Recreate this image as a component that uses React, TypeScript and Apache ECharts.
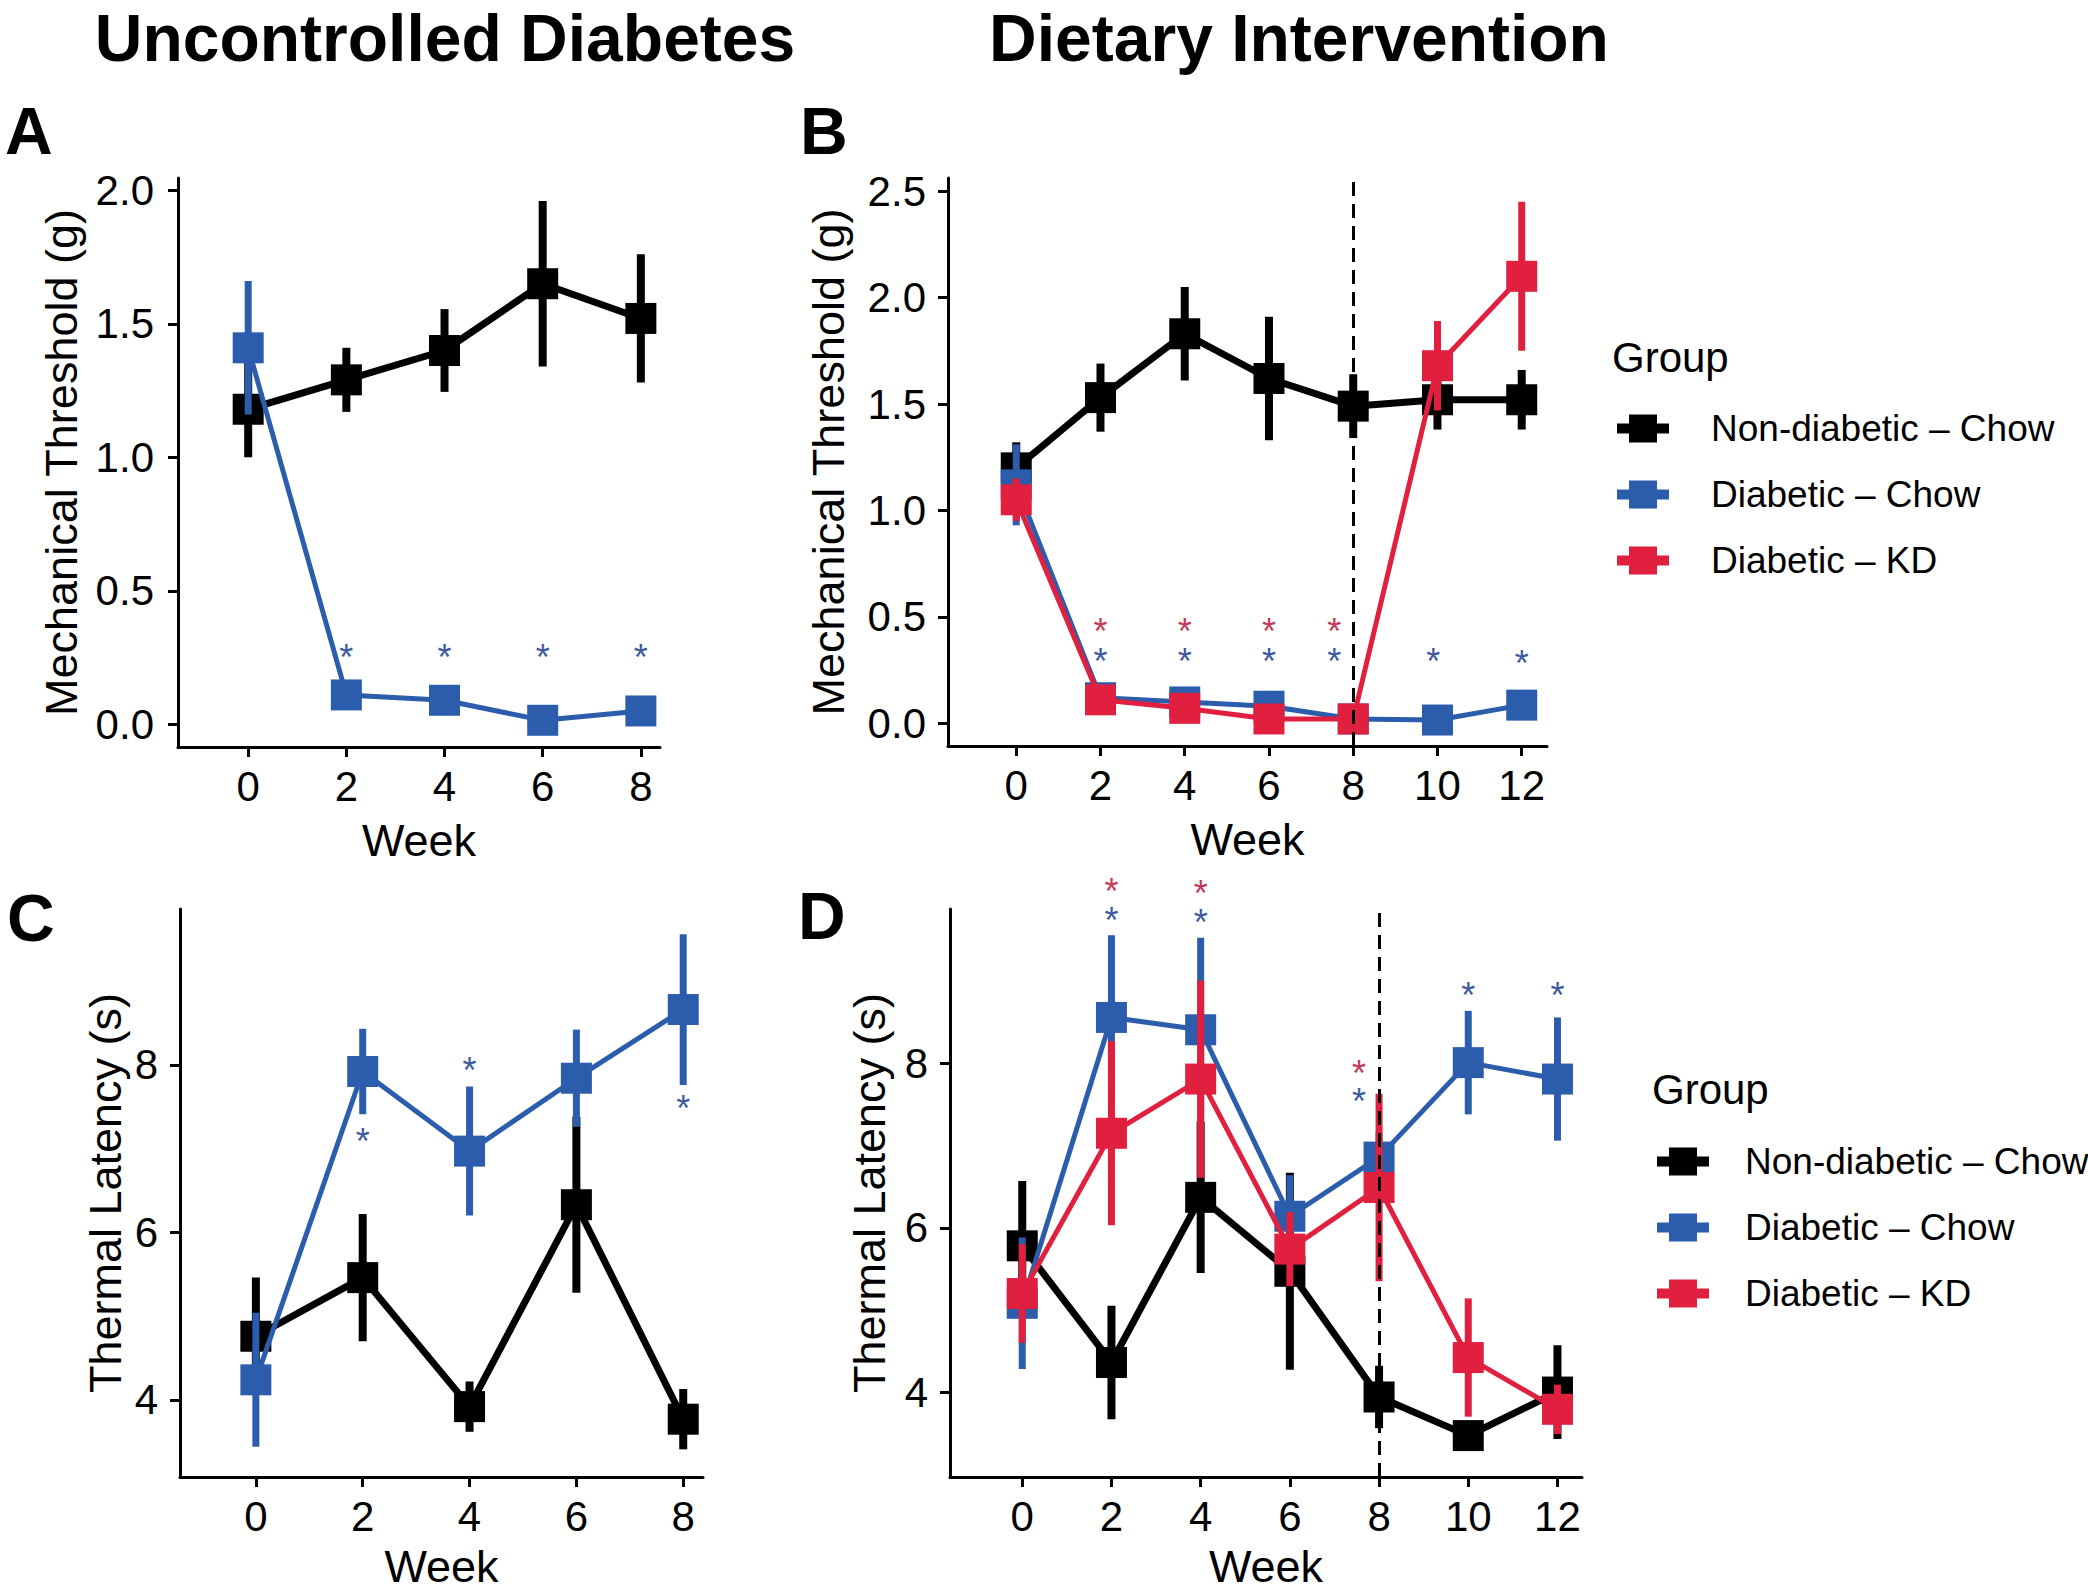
import React, { useEffect, useRef } from "react";
import * as echarts from "echarts";

const FONT = "'Liberation Sans', Arial, Helvetica, sans-serif";

// ---------- data ----------
const GROUPS = ["Non-diabetic – Chow", "Diabetic – Chow", "Diabetic – KD"];
const weeksUD = [0, 2, 4, 6, 8];
const weeksDI = [0, 2, 4, 6, 8, 10, 12];
const xTicksUD = [0, 2, 4, 6, 8];
const xTicksDI = [0, 2, 4, 6, 8, 10, 12];
const yTicksMech = [0, 0.5, 1, 1.5, 2];
const yTicksMechB = [0, 0.5, 1, 1.5, 2, 2.5];
const yTicksThermal = [4, 6, 8];

// Panel A – mechanical threshold, uncontrolled diabetes
const aNonMean = [1.18, 1.29, 1.4, 1.65, 1.52];
const aNonSE = [0.18, 0.12, 0.155, 0.31, 0.24];
const aDiaMean = [1.41, 0.11, 0.09, 0.015, 0.05];
const aDiaSE = [0.25, 0.03, 0.02, 0.02, 0.02];
const aStarsBlue = [[2, 0.28], [4, 0.28], [6, 0.28], [8, 0.28]];

// Panel B – mechanical threshold, dietary intervention
const bNonMean = [1.2, 1.53, 1.83, 1.62, 1.49, 1.52, 1.52];
const bNonSE = [0.12, 0.16, 0.22, 0.29, 0.15, 0.14, 0.14];
const bDiaMean = [1.12, 0.12, 0.1, 0.08, 0.02, 0.015, 0.085];
const bDiaSE = [0.19, 0.03, 0.03, 0.03, 0.02, 0.02, 0.06];
const bKdMean = [1.05, 0.11, 0.07, 0.02, 0.02, 1.68, 2.1];
const bKdSE = [0.1, 0.03, 0.03, 0.02, 0.02, 0.21, 0.35];
const bStarsRed = [[2, 0.47], [4, 0.47], [6, 0.47], [7.55, 0.47]];
const bStarsBlue = [[2, 0.33], [4, 0.33], [6, 0.33], [7.55, 0.33], [9.9, 0.33], [12, 0.32]];

// Panel C – thermal latency, uncontrolled diabetes
const cNonMean = [4.76, 5.46, 3.92, 6.33, 3.77];
const cNonSE = [0.7, 0.76, 0.3, 1.05, 0.36];
const cDiaMean = [4.24, 7.92, 6.97, 7.84, 8.66];
const cDiaSE = [0.8, 0.51, 0.77, 0.58, 0.9];
const cStarsBlue = [[2, 7.18], [4, 8.03], [8, 7.58]];

// Panel D – thermal latency, dietary intervention
const dNonMean = [5.78, 4.36, 6.37, 5.47, 3.94, 3.47, 4.0];
const dNonSE = [0.79, 0.69, 0.92, 1.2, 0.38, 0.17, 0.57];
const dDiaMean = [5.08, 8.56, 8.41, 6.14, 6.86, 8.01, 7.81];
const dDiaSE = [0.8, 1.0, 1.12, 0.5, 0.3, 0.63, 0.75];
const dKdMean = [5.2, 7.15, 7.81, 5.74, 6.49, 4.42, 3.79];
const dKdSE = [0.6, 1.12, 1.2, 0.45, 1.14, 0.72, 0.3];
const dStarsRed = [[2, 10.19], [4, 10.17], [7.55, 7.98]];
const dStarsBlue = [[2, 9.84], [4, 9.81], [7.55, 7.63], [10, 8.92], [12, 8.92]];

const interventionWeek = 8;

// ---------- styles ----------
const BLACK = "#000000";
const BLUE = "#2C5DAD";
const RED = "#E0203E";
const STAR_BLUE = "#3D5A9E";
const STAR_RED = "#C43A58";
const KEY_ICON = "path://M0,9H12V0H40V9H52V19H40V28H12V19H0Z";

function errSeries(gi: number, weeks: number[], mean: number[], se: number[], color: string, width: number, z: number) {
  return {
    type: "custom",
    name: "se" + gi + color,
    xAxisIndex: gi,
    yAxisIndex: gi,
    z,
    silent: true,
    data: weeks.map((w, i) => [w, mean[i] - se[i], mean[i] + se[i]]),
    encode: { x: 0, y: [1, 2] },
    renderItem: (_p: any, api: any) => {
      const a = api.coord([api.value(0), api.value(1)]);
      const b = api.coord([api.value(0), api.value(2)]);
      return {
        type: "line",
        shape: { x1: a[0], y1: a[1], x2: b[0], y2: b[1] },
        style: { stroke: color, lineWidth: width },
      };
    },
  };
}

function lineSeries(name: string, gi: number, weeks: number[], mean: number[], color: string, lw: number, z: number, extra: any = {}) {
  return {
    type: "line",
    name,
    xAxisIndex: gi,
    yAxisIndex: gi,
    z,
    data: weeks.map((w, i) => [w, mean[i]]),
    symbol: "rect",
    symbolSize: 31,
    showSymbol: true,
    lineStyle: { color, width: lw },
    itemStyle: { color },
    emphasis: { disabled: true },
    silent: true,
    ...extra,
  };
}

function starSeries(gi: number, pts: number[][], color: string) {
  return {
    type: "custom",
    name: "stars" + gi + color,
    xAxisIndex: gi,
    yAxisIndex: gi,
    z: 40,
    silent: true,
    clip: false,
    data: pts,
    encode: { x: 0, y: 1 },
    renderItem: (_p: any, api: any) => {
      const c = api.coord([api.value(0), api.value(1)]);
      return {
        type: "text",
        x: c[0],
        y: c[1] + 8,
        style: {
          text: "*",
          fill: color,
          fontSize: 36,
          lineHeight: 16,
          fontFamily: FONT,
          align: "center",
          verticalAlign: "middle",
        },
      };
    },
  };
}

const dashMark = {
  markLine: {
    silent: true,
    z: 50,
    symbol: ["none", "none"],
    label: { show: false },
    lineStyle: { color: BLACK, width: 3, type: [14, 8] },
    data: [{ xAxis: interventionWeek }],
  },
};

function xAxisCfg(gi: number, min: number, max: number, ticks: number[], gap: number) {
  return {
    type: "value",
    gridIndex: gi,
    min,
    max,
    name: "Week",
    nameLocation: "middle",
    nameGap: gap,
    nameTextStyle: { fontSize: 45, color: BLACK, fontFamily: FONT },
    splitLine: { show: false },
    axisLine: { onZero: false, lineStyle: { color: BLACK, width: 3 } },
    axisTick: { show: true, length: 10, lineStyle: { color: BLACK, width: 3 }, customValues: ticks },
    axisLabel: { customValues: ticks, fontSize: 42, color: BLACK, fontFamily: FONT, margin: 18 },
  };
}

function yAxisCfg(gi: number, min: number, max: number, ticks: number[], name: string, gap: number, dec: number, margin: number) {
  return {
    type: "value",
    gridIndex: gi,
    min,
    max,
    name,
    nameLocation: "middle",
    nameGap: gap,
    nameTextStyle: { fontSize: 45, color: BLACK, fontFamily: FONT },
    splitLine: { show: false },
    axisLine: { onZero: false, lineStyle: { color: BLACK, width: 3 } },
    axisTick: { show: true, length: 10, lineStyle: { color: BLACK, width: 3 }, customValues: ticks },
    axisLabel: {
      customValues: ticks,
      fontSize: 42,
      color: BLACK,
      fontFamily: FONT,
      margin,
      formatter: (v: number) => v.toFixed(dec),
    },
  };
}

function legendCfg(left: number, top: number, pad: number) {
  return {
    orient: "vertical",
    left,
    top,
    itemWidth: 52,
    itemHeight: 28,
    itemGap: 29,
    icon: KEY_ICON,
    selectedMode: false,
    data: GROUPS,
    textStyle: { fontSize: 37, color: BLACK, fontFamily: FONT, padding: [0, 0, 0, pad] },
  };
}

function txt(text: string, x: number, y: number, size: number, bold: boolean, align = "left") {
  return {
    type: "text",
    x,
    y,
    silent: true,
    style: {
      text,
      fill: BLACK,
      fontSize: size,
      fontWeight: bold ? "bold" : "normal",
      fontFamily: FONT,
      align,
      verticalAlign: "middle",
    },
  };
}

export default function App() {
  const ref = useRef<HTMLDivElement>(null);
  useEffect(() => {
    if (!ref.current) return;
    const chart = echarts.init(ref.current, null, { renderer: "svg" });
    const option: any = {
      animation: false,
      backgroundColor: "#ffffff",
      textStyle: { fontFamily: FONT },
      grid: [
        { left: 178, top: 178, width: 482, height: 569 },
        { left: 948, top: 178, width: 599, height: 568 },
        { left: 180, top: 909, width: 523, height: 568 },
        { left: 950, top: 909, width: 632, height: 568 },
      ],
      xAxis: [
        xAxisCfg(0, -1.43, 8.39, xTicksUD, 71),
        xAxisCfg(1, -1.62, 12.6, xTicksDI, 71),
        xAxisCfg(2, -1.42, 8.37, xTicksUD, 67),
        xAxisCfg(3, -1.62, 12.55, xTicksDI, 67),
      ],
      yAxis: [
        yAxisCfg(0, -0.085, 2.046, yTicksMech, "Mechanical Threshold (g)", 94, 1, 24),
        yAxisCfg(1, -0.107, 2.562, yTicksMechB, "Mechanical Threshold (g)", 97, 1, 22),
        yAxisCfg(2, 3.08, 9.86, yTicksThermal, "Thermal Latency (s)", 52, 0, 22),
        yAxisCfg(3, 2.966, 9.88, yTicksThermal, "Thermal Latency (s)", 58, 0, 22),
      ],
      legend: [legendCfg(1612, 405, 37), legendCfg(1652, 1138, 31)],
      graphic: [
        txt("Uncontrolled Diabetes", 445, 38, 66, true, "center"),
        txt("Dietary Intervention", 1299, 38, 66, true, "center"),
        txt("A", 5, 131, 66, true),
        txt("B", 800, 131, 66, true),
        txt("C", 7, 918, 66, true),
        txt("D", 798, 916, 66, true),
        txt("Group", 1612, 357, 42, false),
        txt("Group", 1652, 1089, 42, false),
      ],
      series: [
        // A
        errSeries(0, weeksUD, aNonMean, aNonSE, BLACK, 8, 2),
        lineSeries(GROUPS[0], 0, weeksUD, aNonMean, BLACK, 7, 3),
        errSeries(0, weeksUD, aDiaMean, aDiaSE, BLUE, 7, 4),
        lineSeries(GROUPS[1], 0, weeksUD, aDiaMean, BLUE, 5, 5),
        starSeries(0, aStarsBlue, STAR_BLUE),
        // B
        errSeries(1, weeksDI, bNonMean, bNonSE, BLACK, 8, 2),
        lineSeries(GROUPS[0], 1, weeksDI, bNonMean, BLACK, 7, 3),
        errSeries(1, weeksDI, bDiaMean, bDiaSE, BLUE, 7, 4),
        lineSeries(GROUPS[1], 1, weeksDI, bDiaMean, BLUE, 5, 5),
        errSeries(1, weeksDI, bKdMean, bKdSE, RED, 7, 6),
        lineSeries(GROUPS[2], 1, weeksDI, bKdMean, RED, 5, 7, dashMark),
        starSeries(1, bStarsRed, STAR_RED),
        starSeries(1, bStarsBlue, STAR_BLUE),
        // C
        errSeries(2, weeksUD, cNonMean, cNonSE, BLACK, 8, 2),
        lineSeries(GROUPS[0], 2, weeksUD, cNonMean, BLACK, 7, 3),
        errSeries(2, weeksUD, cDiaMean, cDiaSE, BLUE, 7, 4),
        lineSeries(GROUPS[1], 2, weeksUD, cDiaMean, BLUE, 5, 5),
        starSeries(2, cStarsBlue, STAR_BLUE),
        // D
        errSeries(3, weeksDI, dNonMean, dNonSE, BLACK, 8, 2),
        lineSeries(GROUPS[0], 3, weeksDI, dNonMean, BLACK, 7, 3),
        errSeries(3, weeksDI, dDiaMean, dDiaSE, BLUE, 7, 4),
        lineSeries(GROUPS[1], 3, weeksDI, dDiaMean, BLUE, 5, 5),
        errSeries(3, weeksDI, dKdMean, dKdSE, RED, 7, 6),
        lineSeries(GROUPS[2], 3, weeksDI, dKdMean, RED, 5, 7, dashMark),
        starSeries(3, dStarsRed, STAR_RED),
        starSeries(3, dStarsBlue, STAR_BLUE),
      ],
    };
    chart.setOption(option);
    return () => chart.dispose();
  }, []);
  return (
    <div
      ref={ref}
      style={{ position: "absolute", left: 0, top: 0, width: 2088, height: 1594, background: "#fff" }}
    />
  );
}
